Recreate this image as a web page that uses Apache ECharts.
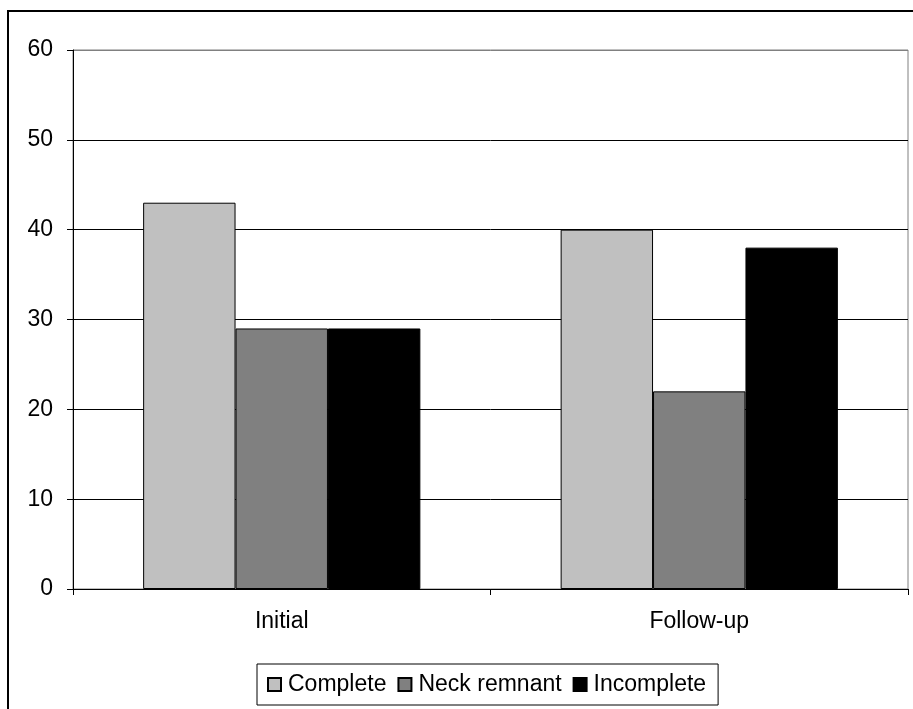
<!DOCTYPE html>
<html>
<head>
<meta charset="utf-8">
<script src="https://cdn.jsdelivr.net/npm/echarts@6/dist/echarts.min.js"></script>
<style>
  html, body { margin: 0; padding: 0; background: #fff; }
  #chart { width: 913px; height: 709px; }
</style>
</head>
<body>
<div id="chart"></div>
<script>
// Stage categories and series values
const categories = ['Initial', 'Follow-up'];
const complete = [43, 40];
const neckRemnant = [29, 22];
const incomplete = [29, 38];
const yTicks = { min: 0, max: 60, interval: 10 };

const FONT = '"Liberation Sans", Arial, sans-serif';
const FONT_SIZE = 23;
const chart = echarts.init(document.getElementById('chart'), null, { renderer: 'canvas' });

function barSeries(name, data, color) {
  return {
    name: name,
    type: 'bar',
    data: data,
    barGap: '0%',
    barCategoryGap: '33.6%',
    itemStyle: { color: color, borderColor: '#000', borderWidth: 1 }
  };
}

chart.setOption({
  animation: false,
  backgroundColor: '#fff',
  textStyle: { fontFamily: FONT, color: '#000' },
  graphic: [{
    type: 'rect',
    shape: { x: 8, y: 11, width: 1000, height: 1000 },
    style: { fill: 'none', stroke: '#000', lineWidth: 2 },
    z: 100
  }],
  grid: {
    left: 73, top: 50, right: 5, bottom: 120,
    show: true, borderColor: '#808080', borderWidth: 1, backgroundColor: '#fff'
  },
  legend: {
    bottom: 4,
    left: 257,
    icon: 'rect',
    itemWidth: 13,
    itemHeight: 13,
    itemGap: 11,
    padding: [9, 12, 9, 10],
    borderColor: '#000',
    borderWidth: 1,
    backgroundColor: '#fff',
    textStyle: { fontFamily: FONT, fontSize: FONT_SIZE, color: '#000', padding: [0, 0, 0, 2] },
    data: ['Complete', 'Neck remnant', 'Incomplete']
  },
  xAxis: {
    type: 'category',
    data: categories,
    axisLine: { lineStyle: { color: '#000', width: 1 } },
    axisTick: { show: true, inside: false, length: 6, alignWithLabel: false, lineStyle: { color: '#000' } },
    axisLabel: { fontFamily: FONT, fontSize: FONT_SIZE, color: '#000', margin: 21 },
    splitLine: { show: false }
  },
  yAxis: {
    type: 'value',
    min: yTicks.min,
    max: yTicks.max,
    interval: yTicks.interval,
    axisLine: { show: true, lineStyle: { color: '#000', width: 1 } },
    axisTick: { show: true, inside: false, length: 6, lineStyle: { color: '#000' } },
    axisLabel: { fontFamily: FONT, fontSize: FONT_SIZE, color: '#000', margin: 20 },
    splitLine: { show: true, lineStyle: { color: ['#000', '#000', '#000', '#000', '#000', '#000', '#808080'], width: 1 } }
  },
  series: [
    barSeries('Complete', complete, '#C0C0C0'),
    barSeries('Neck remnant', neckRemnant, '#808080'),
    barSeries('Incomplete', incomplete, '#000000')
  ]
});
</script>
</body>
</html>
